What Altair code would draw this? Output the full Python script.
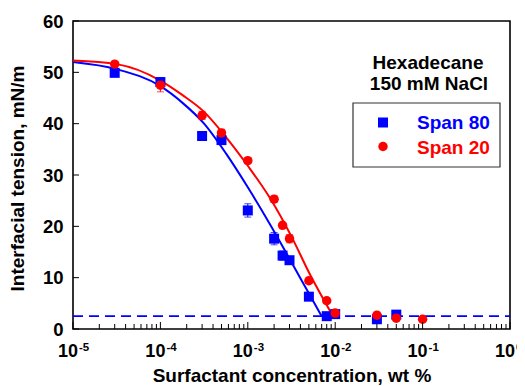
import altair as alt
import pandas as pd
import numpy as np

FONT = "Liberation Sans"
BLUE = "#0000FF"
RED = "#FF0000"

series_names = ["Span 80", "Span 20"]

# measured data (wt %, mN/m)
conc_span80 = [3e-5, 1e-4, 3e-4, 5e-4, 1e-3, 2e-3, 2.5e-3, 3e-3, 5e-3, 8e-3, 1e-2, 3e-2, 5e-2]
ift_span80 = [49.9, 48.1, 37.6, 36.8, 23.1, 17.6, 14.3, 13.4, 6.3, 2.5, 2.9, 1.9, 2.8]
err_span80 = [0.4, 0.9, 0.5, 0.5, 1.3, 1.2, 0.9, 0.7, 0.5, 0.3, 0.3, 0.3, 0.3]

conc_span20 = [3e-5, 1e-4, 3e-4, 5e-4, 1e-3, 2e-3, 2.5e-3, 3e-3, 5e-3, 8e-3, 1e-2, 3e-2, 5e-2, 1e-1]
ift_span20 = [51.6, 47.5, 41.6, 38.2, 32.8, 25.3, 20.2, 17.6, 9.4, 5.5, 3.1, 2.7, 2.1, 1.9]
err_span20 = [0.4, 1.3, 0.8, 0.7, 0.5, 0.6, 0.5, 0.8, 0.5, 0.5, 0.4, 0.3, 0.3, 0.3]

# fitted curves (log10 wt %, mN/m)
fit_logc_span80 = [-5.0, -4.5, -4.0, -3.75, -3.5, -3.25, -3.0, -2.75, -2.5, -2.3, -2.155]
fit_ift_span80 = [52.0, 50.6, 47.3, 44.1, 40.0, 34.2, 27.6, 20.5, 13.0, 6.9, 2.5]
fit_logc_span20 = [-5.0, -4.5, -4.0, -3.75, -3.5, -3.25, -3.0, -2.75, -2.5, -2.3, -2.025]
fit_ift_span20 = [52.3, 51.6, 48.4, 45.6, 42.3, 37.4, 31.8, 25.6, 18.0, 11.0, 2.5]

# CMC plateau (dashed)
plateau_conc = [1e-5, 1.0]
plateau_ift = [2.5, 2.5]

# axis ticks / labels
decades = [1e-5, 1e-4, 1e-3, 1e-2, 1e-1, 1.0]
decade_exponents = ["-5", "-4", "-3", "-2", "-1", "0"]
minor_ticks = [m * d for d in decades[:-1] for m in range(2, 10)]
y_ticks = [0, 10, 20, 30, 40, 50, 60]

W, H = 437, 308

xs = alt.Scale(type="log", domain=[1e-5, 1.0], nice=False)
ys = alt.Scale(domain=[0, 60], nice=False, zero=False)
cs = alt.Scale(domain=series_names, range=[BLUE, RED])

xaxis = alt.Axis(labels=False, ticks=False, domain=False, grid=False,
                 title="Surfactant concentration, wt %", titleFont=FONT,
                 titleFontSize=19, titleFontWeight="bold", titleColor="black",
                 titleY=52, titleBaseline="alphabetic")
yaxis = alt.Axis(values=y_ticks, ticks=False, domain=False, grid=False,
                 labelFont=FONT, labelFontSize=18.5, labelFontWeight="bold",
                 labelColor="black", labelPadding=10,
                 title="Interfacial tension, mN/m", titleFont=FONT,
                 titleFontSize=19, titleFontWeight="bold", titleColor="black",
                 titleX=-50, titleY=157, titleAlign="center",
                 titleBaseline="alphabetic")

def X(f):
    return alt.X(f, type="quantitative", scale=xs, axis=xaxis)

def Y(f):
    return alt.Y(f, type="quantitative", scale=ys, axis=yaxis)

pts = pd.concat([
    pd.DataFrame({"c": conc_span80, "g": ift_span80, "e": err_span80, "s": series_names[0]}),
    pd.DataFrame({"c": conc_span20, "g": ift_span20, "e": err_span20, "s": series_names[1]}),
])
pts["lo"] = pts["g"] - pts["e"]
pts["hi"] = pts["g"] + pts["e"]

fits = pd.concat([
    pd.DataFrame({"c": np.power(10.0, fit_logc_span80), "g": fit_ift_span80, "s": series_names[0]}),
    pd.DataFrame({"c": np.power(10.0, fit_logc_span20), "g": fit_ift_span20, "s": series_names[1]}),
])

plateau = pd.DataFrame({"c": plateau_conc, "g": plateau_ift})
one = pd.DataFrame({"a": [0]})

dashed = alt.Chart(plateau).mark_line(color=BLUE, strokeWidth=1.6, strokeDash=[10, 6]).encode(
    x=X("c"), y=Y("g"))

fit_lines = alt.Chart(fits).mark_line(strokeWidth=2, interpolate="monotone").encode(
    x=X("c"), y=Y("g"), color=alt.Color("s:N", scale=cs, legend=None),
    detail="s:N", order=alt.Order("c:Q"))

err_rules = alt.Chart(pts).mark_rule(strokeWidth=1).encode(
    x=X("c"), y=Y("lo"), y2="hi", color=alt.Color("s:N", scale=cs, legend=None))
err_lo = alt.Chart(pts).mark_tick(orient="horizontal", size=7, thickness=1).encode(
    x=X("c"), y=Y("lo"), color=alt.Color("s:N", scale=cs, legend=None))
err_hi = alt.Chart(pts).mark_tick(orient="horizontal", size=7, thickness=1).encode(
    x=X("c"), y=Y("hi"), color=alt.Color("s:N", scale=cs, legend=None))

squares = alt.Chart(pts).transform_filter(alt.datum.s == series_names[0]).mark_point(
    shape="square", filled=True, size=100, opacity=1, color=BLUE).encode(x=X("c"), y=Y("g"))
circles = alt.Chart(pts).transform_filter(alt.datum.s == series_names[1]).mark_point(
    shape="circle", filled=True, size=90, opacity=1, color=RED).encode(x=X("c"), y=Y("g"))

major_x = alt.Chart(pd.DataFrame({"v": decades})).mark_rule(color="black", strokeWidth=1).encode(
    x=X("v"), y=alt.value(H), y2=alt.value(H - 7))
minor_x = alt.Chart(pd.DataFrame({"v": minor_ticks})).mark_rule(color="black", strokeWidth=1).encode(
    x=X("v"), y=alt.value(H), y2=alt.value(H - 5))
ticks_y = alt.Chart(pd.DataFrame({"v": y_ticks})).mark_rule(color="black", strokeWidth=1).encode(
    y=Y("v"), x=alt.value(0), x2=alt.value(6))

lab_df = pd.DataFrame({"v": decades, "base": ["10"] * len(decades), "exp": decade_exponents})
lab_base = alt.Chart(lab_df).mark_text(font=FONT, fontSize=18, fontWeight="bold", color="black",
                                       align="right", baseline="alphabetic", dx=5).encode(
    x=X("v"), y=alt.value(H + 28), text="base:N")
lab_exp = alt.Chart(lab_df).mark_text(font=FONT, fontSize=11.5, fontWeight="bold", color="black",
                                      align="left", baseline="alphabetic", dx=6).encode(
    x=X("v"), y=alt.value(H + 22), text="exp:N")

# annotation and legend box
annot1 = alt.Chart(one).mark_text(font=FONT, fontSize=19, fontWeight="bold", color="black",
                                  align="center", baseline="alphabetic").encode(
    x=alt.value(355), y=alt.value(47.6), text=alt.value("Hexadecane"))
annot2 = alt.Chart(one).mark_text(font=FONT, fontSize=19, fontWeight="bold", color="black",
                                  align="center", baseline="alphabetic").encode(
    x=alt.value(356), y=alt.value(68.6), text=alt.value("150 mM NaCl"))
leg_box = alt.Chart(one).mark_rect(fill="white", stroke="#333333", strokeWidth=1.2).encode(
    x=alt.value(280), x2=alt.value(427), y=alt.value(82), y2=alt.value(146))
leg_sq = alt.Chart(one).mark_point(shape="square", filled=True, size=100, opacity=1, color=BLUE).encode(
    x=alt.value(310), y=alt.value(101.5))
leg_ci = alt.Chart(one).mark_point(shape="circle", filled=True, size=90, opacity=1, color=RED).encode(
    x=alt.value(310), y=alt.value(125.5))
leg_t1 = alt.Chart(one).mark_text(font=FONT, fontSize=19, fontWeight="bold", color=BLUE,
                                  align="left", baseline="alphabetic").encode(
    x=alt.value(344), y=alt.value(107.8), text=alt.value(series_names[0]))
leg_t2 = alt.Chart(one).mark_text(font=FONT, fontSize=19, fontWeight="bold", color=RED,
                                  align="left", baseline="alphabetic").encode(
    x=alt.value(344), y=alt.value(132.8), text=alt.value(series_names[1]))

chart = alt.layer(
    dashed, fit_lines, err_rules, err_lo, err_hi, squares, circles,
    major_x, minor_x, ticks_y, lab_base, lab_exp,
    annot1, annot2, leg_box, leg_sq, leg_ci, leg_t1, leg_t2,
).properties(
    width=W, height=H,
    padding={"left": 65, "top": 13, "right": 7, "bottom": 57},
    autosize=alt.AutoSizeParams(type="none"),
).configure_view(stroke="black", strokeWidth=1.6)

chart.save("out.html", embed_options={"renderer": "svg", "actions": False})
